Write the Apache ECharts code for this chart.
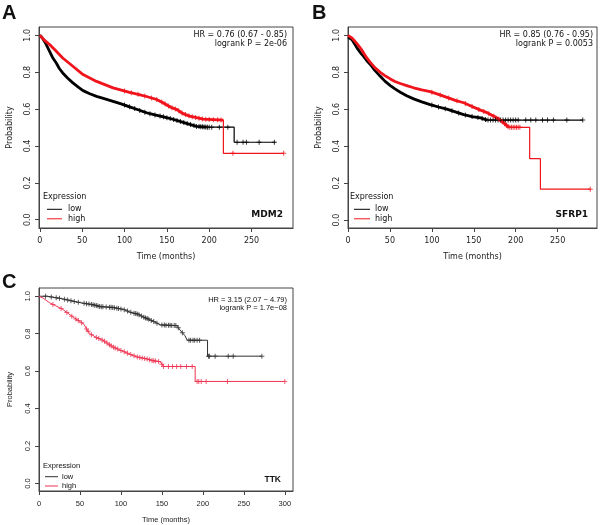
<!DOCTYPE html>
<html><head><meta charset="utf-8">
<script src="https://cdn.jsdelivr.net/npm/echarts@6/dist/echarts.min.js"></script>
<style>html,body{margin:0;padding:0;background:#fff}#c{width:600px;height:525px}</style>
</head><body><div id="c"></div>
<script>
// ---------- data ----------
const yTicks = [0, 0.2, 0.4, 0.6, 0.8, 1.0];
const xTicksAB = [0, 50, 100, 150, 200, 250];
const xTicksC = [0, 50, 100, 150, 200, 250, 300];

// Panel A (MDM2)
const aLow = [[0,1],[3,0.985],[7,0.955],[11.5,0.913],[15,0.88],[19.4,0.85],[23,0.82],[27,0.796],[33,0.767],[39,0.742],[45,0.72],[51,0.70],[59,0.683],[67,0.669],[77,0.655],[86.5,0.642],[96,0.628],[106,0.612],[116,0.596],[126,0.58],[136,0.568],[146,0.558],[156,0.546],[165.5,0.533],[175,0.52],[185,0.506],[197,0.502],[229.5,0.502],[229.5,0.42],[278,0.42]];
const aHigh = [[0,1],[5,0.975],[11.5,0.95],[19.4,0.913],[27,0.877],[39,0.832],[51,0.787],[67,0.75],[86.5,0.715],[106,0.69],[116,0.68],[126,0.668],[138,0.652],[146,0.633],[154,0.611],[162,0.597],[169,0.575],[177,0.562],[193,0.545],[216.8,0.54],[216.8,0.36],[288,0.36]];
const aLowCens = [100,106,112,118,124,130,136,142,146,150,154,158,162,166,170,174,178,182,185,188,190,192,194,196,198,200,203,212,222,233,240,244,259,277];
const aHighCens = [100,108,116,124,132,138,144,148,152,156,160,164,168,172,176,180,184,188,192,196,200,205,210,214,228,288];

// Panel B (SFRP1)
const bLow = [[0,0.99],[5,0.975],[10.7,0.932],[15,0.905],[18.6,0.886],[22,0.865],[26.6,0.842],[32,0.81],[38.5,0.778],[44,0.752],[50.5,0.728],[56,0.71],[62.4,0.692],[70,0.673],[78.3,0.656],[88,0.64],[98,0.625],[108,0.612],[118,0.60],[128,0.586],[138,0.571],[148,0.56],[158,0.553],[166,0.541],[280,0.541]];
const bHigh = [[0,1],[5,0.985],[10.7,0.955],[15,0.93],[18.6,0.905],[22,0.88],[26.6,0.854],[32,0.825],[38.5,0.80],[44,0.782],[50.5,0.764],[56,0.75],[62.4,0.739],[70,0.728],[78.3,0.716],[88,0.705],[98,0.695],[108,0.68],[118,0.664],[128,0.648],[138,0.635],[148,0.615],[158,0.595],[165,0.583],[170,0.571],[178,0.553],[185.7,0.526],[191.6,0.502],[216.7,0.502],[216.7,0.332],[229.5,0.332],[229.5,0.167],[289,0.167]];
const bLowCens = [100,108,116,124,132,140,148,155,160,164,167,170,173,176,179,182,185,188,191,194,197,200,203,212,218,224,232,238,245,261,280];
const bHighCens = [100,110,120,130,140,148,156,162,168,174,180,184,187,189,191,193,195,197,199,201,203,205,289];

// Panel C (TTK)
const cLow = [[0,1],[10,1.0],[17,0.995],[30,0.985],[45,0.97],[55,0.962],[66,0.955],[74,0.945],[90,0.94],[103,0.93],[111,0.915],[120,0.905],[127,0.89],[135,0.875],[140,0.865],[148,0.847],[168,0.843],[172,0.82],[178,0.79],[181,0.765],[205.7,0.765],[205.7,0.68],[272,0.68]];
const cHigh = [[0,1],[5,0.99],[13,0.965],[20,0.95],[29,0.93],[35,0.91],[42,0.887],[50,0.865],[55,0.85],[58,0.825],[62,0.80],[70,0.78],[78,0.765],[83,0.75],[90,0.73],[95,0.72],[103,0.705],[111,0.69],[120,0.675],[132,0.665],[140,0.655],[148,0.65],[152,0.625],[190.6,0.625],[190.6,0.545],[300,0.545]];
const cLowCens = [8,15,21,25,31,35,39,43,48,55,58,61,64,66,68,70,72,74,76,78,82,86,88,90,92,95,97,100,104,108,112,116,118,120,122,125,128,130,132,134,137,140,144,150,153,155,158,160,162,165,167,170,175,183,185,188,190,193,196,207,208,215,231,237,272];
const cHighCens = [17,27,34,40,45,48,52,58,60,64,70,73,77,80,83,86,88,91,93,96,100,104,108,112,116,120,123,126,129,132,135,138,140,142,146,150,152,158,163,168,173,180,187,193,195,198,204,230,300];

// ---------- helpers ----------
function survAt(curve, t) {
  let v = curve[0][1];
  for (let i = 0; i < curve.length; i++) {
    const [x, y] = curve[i];
    if (x <= t) { v = y; }
    if (i + 1 < curve.length) {
      const [x2, y2] = curve[i + 1];
      if (x < t && t < x2 && x2 !== x) { return y + (y2 - y) * (t - x) / (x2 - x); }
    }
  }
  return v;
}
const cens = (curve, times) => times.map(t => [t, survAt(curve, t)]);
// split a curve at the first point whose time equals splitT: dense head / sparse tail
function splitCurve(curve, splitT) {
  const k = curve.findIndex(d => d[0] === splitT);
  if (k < 0) return [curve, []];
  return [curve.slice(0, k + 1), curve.slice(k)];
}
const PLUS = 'path://M4,0H6V4H10V6H6V10H4V6H0V4H4Z';

const RED_AB = '#f0141c', RED_C = '#ee3350', BLK_AB = '#000000', BLK_C = '#303030';
const FONT_AB = 'DejaVu Sans', FONT_C = 'Liberation Sans';
const AXC = '#444';

const panels = [
  {grid:{left:39,top:27,width:254,height:201}, xmin:-1, xmax:299, ymin:-0.045, ymax:1.045, xt:xTicksAB, font:FONT_AB, fs:8,
   low:aLow, high:aHigh, lc:aLowCens, hc:aHighCens, lowSplit:197, highSplit:216.8, red:RED_AB, blk:BLK_AB, lw:2.8, tw:1.2, ms:5},
  {grid:{left:348,top:27,width:249,height:201}, xmin:0, xmax:297, ymin:-0.043, ymax:1.045, xt:xTicksAB, font:FONT_AB, fs:8,
   low:bLow, high:bHigh, lc:bLowCens, hc:bHighCens, lowSplit:166, highSplit:191.6, red:RED_AB, blk:BLK_AB, lw:2.8, tw:1.2, ms:5},
  {grid:{left:39,top:288,width:254,height:207}, xmin:0, xmax:310, ymin:-0.040, ymax:1.044, xt:xTicksC, font:FONT_C, fs:7.5,
   low:cLow, high:cHigh, lc:cLowCens, hc:cHighCens, lowSplit:null, highSplit:null, red:RED_C, blk:BLK_C, lw:1, tw:1, ms:5}
];

const grid = [], xAxis = [], yAxis = [], series = [];
panels.forEach((p, i) => {
  grid.push(Object.assign({show:true, borderColor:AXC, borderWidth:1, backgroundColor:'#fff'}, p.grid));
  xAxis.push({type:'value', gridIndex:i, min:p.xmin, max:p.xmax,
    name:'Time (months)', nameLocation:'middle', nameGap:25,
    nameTextStyle:{fontFamily:p.font, fontSize:p.fs, color:'#222'},
    axisLine:{show:true, onZero:false, lineStyle:{color:AXC}}, splitLine:{show:false},
    axisTick:{show:true, length:4, customValues:p.xt, lineStyle:{color:AXC}},
    axisLabel:{customValues:p.xt, margin:9, fontFamily:p.font, fontSize:p.fs, color:'#222'}});
  yAxis.push({type:'value', gridIndex:i, min:p.ymin, max:p.ymax,
    name:'Probability', nameLocation:'middle', nameGap:25,
    nameTextStyle:{fontFamily:p.font, fontSize:p.fs, color:'#222'},
    axisLine:{show:true, onZero:false, lineStyle:{color:AXC}}, splitLine:{show:false},
    axisTick:{show:true, length:4, customValues:yTicks, lineStyle:{color:AXC}},
    axisLabel:{customValues:yTicks, rotate:90, margin:7, fontFamily:p.font, fontSize:p.fs, color:'#222',
      formatter:v => v.toFixed(1)}});
  const mk = (data, color, w) => ({type:'line', xAxisIndex:i, yAxisIndex:i, data, showSymbol:false, symbol:'none',
    lineStyle:{color, width:w}, itemStyle:{color}, silent:true, animation:false, z:2});
  const sc = (data, color) => ({type:'scatter', xAxisIndex:i, yAxisIndex:i, data, symbol:PLUS, symbolSize:p.ms,
    itemStyle:{color}, silent:true, animation:false, z:3});
  const [lh, lt] = splitCurve(p.low, p.lowSplit);
  const [hh, ht] = splitCurve(p.high, p.highSplit);
  series.push(mk(lh, p.blk, p.lw), mk(lt, p.blk, p.tw), mk(hh, p.red, p.lw), mk(ht, p.red, p.tw),
    sc(cens(p.low, p.lc), p.blk), sc(cens(p.high, p.hc), p.red));
});

const txt = (x, y, s, o) => ({type:'text', x, y, style:Object.assign({text:s, fill:'#111'}, o)});
const ln = (x1, y1, x2, y2, c) => ({type:'line', shape:{x1, y1, x2, y2}, style:{stroke:c, lineWidth:1}});

const graphic = [
  txt(2, 3, 'A', {font:'bold 20px Liberation Sans'}),
  txt(312, 3, 'B', {font:'bold 20px Liberation Sans'}),
  txt(2, 272, 'C', {font:'bold 20px Liberation Sans'}),
  // HR texts
  txt(287, 35, 'HR = 0.76 (0.67 - 0.85)', {font:'8px DejaVu Sans', align:'right', verticalAlign:'middle'}),
  txt(287, 44, 'logrank P = 2e-06', {font:'8px DejaVu Sans', align:'right', verticalAlign:'middle'}),
  txt(593, 35, 'HR = 0.85 (0.76 - 0.95)', {font:'8px DejaVu Sans', align:'right', verticalAlign:'middle'}),
  txt(593, 44, 'logrank P = 0.0053', {font:'8px DejaVu Sans', align:'right', verticalAlign:'middle'}),
  txt(287, 299.5, 'HR = 3.15 (2.07 \u2212 4.79)', {font:'7.5px Liberation Sans', align:'right', verticalAlign:'middle'}),
  txt(287, 308, 'logrank P = 1.7e\u221208', {font:'7.5px Liberation Sans', align:'right', verticalAlign:'middle'}),
  // gene names
  txt(283, 215, 'MDM2', {font:'bold 9px DejaVu Sans', align:'right', verticalAlign:'middle'}),
  txt(588, 215, 'SFRP1', {font:'bold 9px DejaVu Sans', align:'right', verticalAlign:'middle'}),
  txt(281, 480, 'TTK', {font:'bold 8.5px Liberation Sans', align:'right', verticalAlign:'middle'}),
  // legends
  txt(43, 197, 'Expression', {font:'8px DejaVu Sans', verticalAlign:'middle'}),
  ln(47, 209.3, 62, 209.3, BLK_AB), ln(47, 218.8, 62, 218.8, RED_AB),
  txt(68, 209, 'low', {font:'8px DejaVu Sans', verticalAlign:'middle'}),
  txt(68, 218.5, 'high', {font:'8px DejaVu Sans', verticalAlign:'middle'}),
  txt(350, 197, 'Expression', {font:'8px DejaVu Sans', verticalAlign:'middle'}),
  ln(354, 209.3, 370, 209.3, BLK_AB), ln(354, 218.8, 370, 218.8, RED_AB),
  txt(375, 209, 'low', {font:'8px DejaVu Sans', verticalAlign:'middle'}),
  txt(375, 218.5, 'high', {font:'8px DejaVu Sans', verticalAlign:'middle'}),
  txt(43, 466, 'Expression', {font:'7.5px Liberation Sans', verticalAlign:'middle'}),
  ln(45, 476.7, 58, 476.7, BLK_C), ln(45, 486, 58, 486, RED_C),
  txt(62, 476.5, 'low', {font:'7.5px Liberation Sans', verticalAlign:'middle'}),
  txt(62, 486, 'high', {font:'7.5px Liberation Sans', verticalAlign:'middle'})
];

const chart = echarts.init(document.getElementById('c'), null, {renderer:'canvas'});
chart.setOption({animation:false, backgroundColor:'#fff', grid, xAxis, yAxis, series, graphic});
</script></body></html>
